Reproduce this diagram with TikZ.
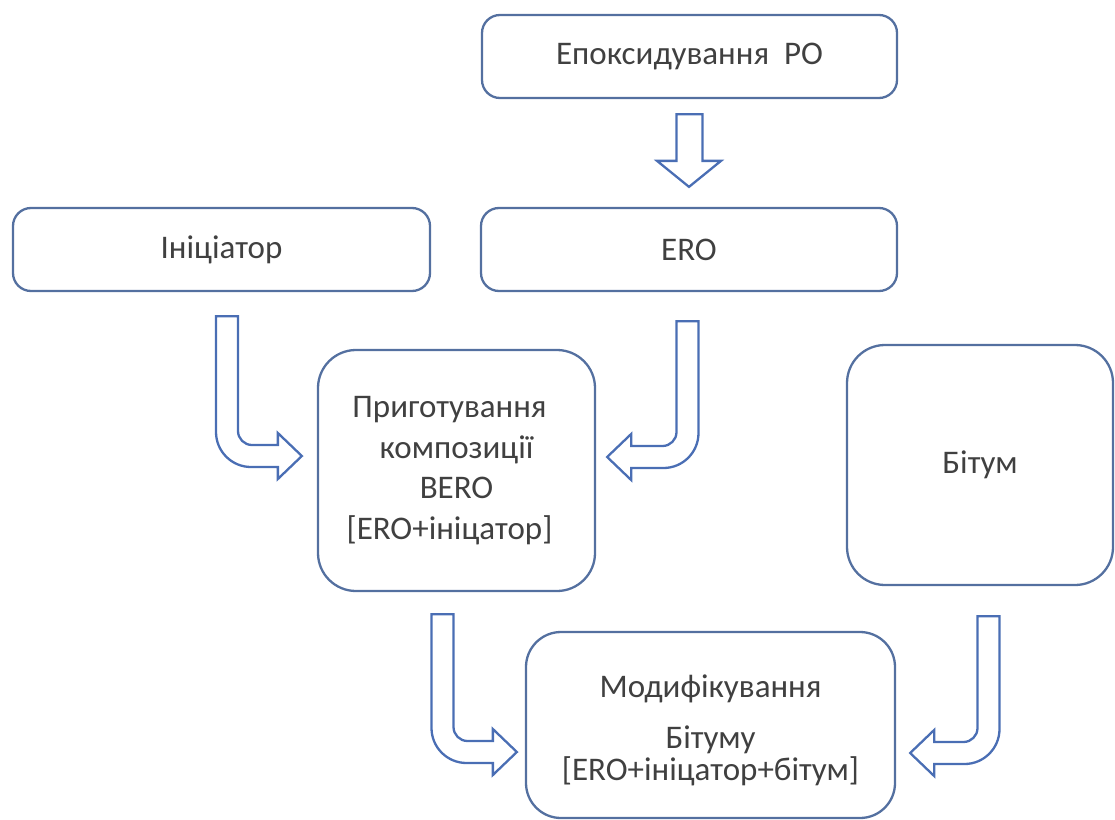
\documentclass[tikz,border=0pt]{standalone}
\usepackage{fontspec}
\setmainfont{Carlito}
\usepackage{xcolor}
\usepackage{tikz}
\usetikzlibrary{calc}

\definecolor{boxline}{RGB}{84,112,160}
\definecolor{arrowline}{RGB}{74,110,180}
\definecolor{textgray}{RGB}{64,64,64}

% hollow bent arrow: #1 top of shaft, #2 tip, #3 = 1 (turns right) or -1 (turns left)
\newcommand{\bendarrow}[3]{%
  \draw[blockarrow] ($(#1)+(-11*#3,0)$) -- ($(#1|-#2)+(-11*#3,-24)$)
    arc[start angle={90+90*#3}, end angle=90, radius=35]
    -- ($(#2)+(-24*#3,11)$) -- ($(#2)+(-24*#3,23)$) -- (#2)
    -- ($(#2)+(-24*#3,-23)$) -- ($(#2)+(-24*#3,-11)$)
    -- ($(#1|-#2)+(25*#3,-11)$)
    arc[start angle=90, end angle={90+90*#3}, radius=14]
    -- ($(#1)+(11*#3,0)$) -- cycle;}

\begin{document}
\begin{tikzpicture}[
    x=1pt, y=-1pt,
    every node/.style={font=\fontsize{33}{40.5}\selectfont, text=textgray},
    smallbox/.style={draw=boxline, line width=2.3pt, rounded corners=18pt,
      minimum width=417pt, minimum height=83pt, inner sep=0pt},
    bigbox/.style={draw=boxline, line width=2.3pt, rounded corners=38pt,
      inner sep=0pt, align=center},
    blockarrow/.style={draw=arrowline, line width=2.3pt, line join=miter}
  ]
  \useasboundingbox (0,0) rectangle (1115,819);

  % ── Boxes ───────────────────────────────────────────────────────────────
  \node[smallbox, minimum width=415pt] (epox) at (689.5,56.5) {Епоксидування\ \ РО};
  \node[smallbox] (init) at (221.5,249.5) {Ініціатор};
  \node[smallbox, minimum width=416pt] (ero) at (689,249.5) {ERO};

  \node[bigbox, minimum width=277pt, minimum height=241pt] (bero) at (456.5,470.5)
    {Приготування\hspace*{14pt}\\ композиції\hspace*{14pt}\\ BERO\hspace*{14pt}\\
     {[}ERO+ініцатор{]}\hspace*{14pt}};
  \node[bigbox, minimum width=266pt, minimum height=240pt] (bitum) at (980,465) {Бітум};
  \node[bigbox, rounded corners=35pt, minimum width=369pt, minimum height=186pt]
    (modif) at (710.5,725)
    {\rule{0pt}{34pt}Модифікування\\[10pt] Бітуму\hspace*{16pt}\\[-8pt]
     {[}ERO+ініцатор+бітум{]}};

  % ── Arrow ends ──────────────────────────────────────────────────────────
  \coordinate (s0) at ($(epox.south)+(0,15)$);
  \coordinate (t0) at ($(ero.north)+(0,-20)$);
  \coordinate (s1) at ($(init.south)+(5.5,24)$);
  \coordinate (t1) at ($(bero.west)+(-15,-14.5)$);
  \coordinate (s2) at ($(ero.south)+(-1.5,29)$);
  \coordinate (t2) at ($(bero.east)+(11,-13.5)$);
  \coordinate (s3) at ($(bero.south)+(-14,22)$);
  \coordinate (t3) at ($(modif.west)+(-8,27)$);
  \coordinate (s4) at ($(bitum.south)+(8.5,30)$);
  \coordinate (t4) at ($(modif.east)+(14,28)$);

  % ── Arrows ──────────────────────────────────────────────────────────────
  \draw[blockarrow] ($(s0)+(-13,0)$) -- ($(s0|-t0)+(-13,-26)$) -- ($(t0)+(-32,-26)$)
    -- (t0) -- ($(t0)+(32,-26)$) -- ($(s0|-t0)+(13,-26)$) -- ($(s0)+(13,0)$) -- cycle;
  \bendarrow{s1}{t1}{1}
  \bendarrow{s2}{t2}{-1}
  \bendarrow{s3}{t3}{1}
  \bendarrow{s4}{t4}{-1}

\end{tikzpicture}
\end{document}
